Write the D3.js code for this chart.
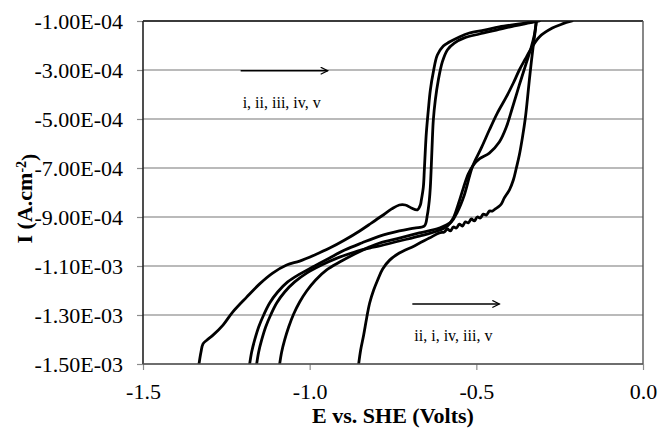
<!DOCTYPE html>
<html>
<head>
<meta charset="utf-8">
<script src="https://cdn.jsdelivr.net/npm/d3@7"></script>
<style>
  html, body { margin: 0; padding: 0; background: #fff; }
  svg { display: block; font-family: "Liberation Serif", "Times New Roman", serif; }
</style>
</head>
<body>
<svg id="chart" width="658" height="429"></svg>
<script>
// Polarization scans: [E (V vs. SHE), I (units of 1e-4 A·cm^-2)]
const scanII = [[-1.332,-15.00],[-1.326,-14.51],[-1.320,-14.18],[-1.308,-14.02],[-1.290,-13.82],[-1.260,-13.41],[-1.231,-12.88],[-1.189,-12.27],[-1.150,-11.73],[-1.111,-11.29],[-1.069,-10.96],[-1.030,-10.80],[-0.985,-10.55],[-0.940,-10.27],[-0.895,-9.94],[-0.850,-9.57],[-0.814,-9.24],[-0.784,-8.96],[-0.754,-8.67],[-0.731,-8.51],[-0.713,-8.51],[-0.695,-8.63],[-0.677,-8.71],[-0.668,-8.51],[-0.665,-8.31],[-0.659,-7.78],[-0.656,-7.08],[-0.653,-6.27],[-0.650,-5.57],[-0.644,-4.63],[-0.638,-3.82],[-0.629,-3.08],[-0.617,-2.39],[-0.599,-2.02],[-0.581,-1.86],[-0.551,-1.65],[-0.521,-1.49],[-0.476,-1.37],[-0.431,-1.24],[-0.371,-1.12],[-0.320,-1.00]];
const scanI = [[-1.180,-15.00],[-1.174,-14.51],[-1.165,-14.02],[-1.153,-13.49],[-1.138,-13.00],[-1.120,-12.51],[-1.096,-12.06],[-1.066,-11.65],[-1.030,-11.33],[-0.985,-11.00],[-0.940,-10.67],[-0.895,-10.35],[-0.844,-10.06],[-0.790,-9.78],[-0.731,-9.57],[-0.686,-9.45],[-0.656,-9.37],[-0.647,-8.92],[-0.641,-8.31],[-0.638,-7.78],[-0.635,-6.88],[-0.632,-5.86],[-0.629,-5.04],[-0.623,-4.22],[-0.614,-3.41],[-0.602,-2.67],[-0.587,-2.18],[-0.566,-1.90],[-0.536,-1.69],[-0.491,-1.53],[-0.440,-1.37],[-0.386,-1.20],[-0.341,-1.08],[-0.311,-1.00]];
const scanIII = [[-1.090,-15.00],[-1.084,-14.51],[-1.075,-14.02],[-1.063,-13.49],[-1.048,-12.96],[-1.030,-12.47],[-1.009,-12.02],[-0.982,-11.57],[-0.949,-11.16],[-0.910,-10.84],[-0.865,-10.51],[-0.820,-10.22],[-0.790,-10.06],[-0.731,-9.86],[-0.671,-9.65],[-0.611,-9.45],[-0.575,-9.20],[-0.557,-8.80],[-0.536,-8.10],[-0.512,-6.96],[-0.485,-6.18],[-0.461,-5.45],[-0.437,-4.76],[-0.410,-4.10],[-0.389,-3.53],[-0.371,-3.00],[-0.353,-2.55],[-0.338,-2.18],[-0.311,-1.65],[-0.272,-1.29],[-0.242,-1.12],[-0.213,-1.00]];
const scanIV = [[-1.159,-15.00],[-1.153,-14.51],[-1.144,-14.02],[-1.132,-13.49],[-1.117,-13.00],[-1.099,-12.51],[-1.075,-12.06],[-1.045,-11.65],[-1.009,-11.29],[-0.964,-10.96],[-0.916,-10.67],[-0.865,-10.43],[-0.820,-10.27],[-0.790,-10.18],[-0.731,-9.98],[-0.671,-9.78],[-0.617,-9.57],[-0.587,-9.37],[-0.569,-9.04],[-0.554,-8.47],[-0.539,-7.82],[-0.524,-7.24],[-0.509,-6.88],[-0.491,-6.63],[-0.461,-6.39],[-0.431,-5.94],[-0.410,-5.33],[-0.392,-4.55],[-0.371,-3.61],[-0.350,-2.71],[-0.335,-2.06],[-0.326,-1.57],[-0.320,-1.00]];
const scanV = [[-0.853,-15.00],[-0.847,-14.43],[-0.838,-13.82],[-0.829,-13.12],[-0.820,-12.51],[-0.808,-11.98],[-0.796,-11.57],[-0.781,-11.12],[-0.760,-10.76],[-0.731,-10.47],[-0.686,-10.18],[-0.641,-9.86],[-0.611,-9.65],[-0.596,-9.61],[-0.587,-9.49],[-0.578,-9.57],[-0.569,-9.41],[-0.560,-9.45],[-0.551,-9.29],[-0.542,-9.37],[-0.533,-9.20],[-0.524,-9.24],[-0.515,-9.08],[-0.506,-9.16],[-0.497,-9.00],[-0.488,-9.04],[-0.479,-8.88],[-0.470,-8.92],[-0.461,-8.76],[-0.452,-8.76],[-0.443,-8.67],[-0.434,-8.59],[-0.425,-8.47],[-0.416,-8.22],[-0.401,-7.90],[-0.389,-7.49],[-0.380,-7.00],[-0.371,-6.47],[-0.362,-5.78],[-0.353,-4.96],[-0.347,-4.22],[-0.341,-3.41],[-0.335,-2.67],[-0.329,-1.98],[-0.323,-1.37],[-0.320,-1.00]];

const currentUnit = 1e-4; // A·cm^-2 per stored unit

// Axis ticks
const xTicks = [-1.5, -1.0, -0.5, 0.0];
const yTicks = [-1.0e-4, -3.0e-4, -5.0e-4, -7.0e-4, -9.0e-4, -1.1e-3, -1.3e-3, -1.5e-3];

// Scan-order notes: [label, E start, E end, I (1e-4 A·cm^-2) of arrow, I of label]
const noteAnodic = ["i, ii, iii, iv, v", -1.207, -0.946, -3.03, -4.55];
const noteCathodic = ["ii, i, iv, iii, v", -0.692, -0.431, -12.55, -14.06];

const serif = '"Liberation Serif", "Times New Roman", serif';
const svg = d3.select("#chart");
const m = { left: 143, right: 643, top: 21, bottom: 364 };

const x = d3.scaleLinear().domain([-1.5, 0]).range([m.left, m.right]);
const y = d3.scaleLinear().domain([-1.5e-3, -1.0e-4]).range([m.bottom, m.top]);

function sci(v) {
  const [mant, ex] = v.toExponential(2).split("e");
  const n = +ex;
  return mant + "E" + (n < 0 ? "-" : "+") + String(Math.abs(n)).padStart(2, "0");
}

// Horizontal gridlines
svg.append("g")
  .selectAll("line")
  .data(yTicks)
  .join("line")
  .attr("x1", m.left).attr("x2", m.right)
  .attr("y1", d => y(d)).attr("y2", d => y(d))
  .attr("stroke", "#a3a3a3")
  .attr("stroke-width", 1.5);

// Y axis
const yAxis = svg.append("g")
  .attr("transform", `translate(${m.left},0)`)
  .call(d3.axisLeft(y).tickValues(yTicks).tickFormat(sci).tickSize(6).tickSizeOuter(0).tickPadding(14))
  .attr("font-family", serif)
  .attr("font-size", 22);
yAxis.select(".domain").remove();
yAxis.selectAll(".tick line").attr("stroke", "#8c8c8c").attr("stroke-width", 1.2);
yAxis.selectAll(".tick text").attr("fill", "#000");

// X axis
const xAxis = svg.append("g")
  .attr("transform", `translate(0,${m.bottom})`)
  .call(d3.axisBottom(x).tickValues(xTicks).tickFormat(d => d.toFixed(1)).tickSize(6).tickSizeOuter(0).tickPadding(13))
  .attr("font-family", serif)
  .attr("font-size", 22);
xAxis.select(".domain").remove();
xAxis.selectAll(".tick line").attr("stroke", "#8c8c8c").attr("stroke-width", 1.2);
xAxis.selectAll(".tick text").attr("fill", "#000");

// Curves
const defs = svg.append("defs");
defs.append("clipPath").attr("id", "plot-clip")
  .append("rect")
  .attr("x", m.left).attr("y", m.top)
  .attr("width", m.right - m.left).attr("height", m.bottom - m.top);

const line = d3.line()
  .x(d => x(d[0]))
  .y(d => y(d[1] * currentUnit))
  .curve(d3.curveCatmullRom.alpha(0.5));

svg.append("g")
  .attr("clip-path", "url(#plot-clip)")
  .selectAll("path")
  .data([scanII, scanI, scanIV, scanIII, scanV])
  .join("path")
  .attr("d", line)
  .attr("fill", "none")
  .attr("stroke", "#000")
  .attr("stroke-width", 2.8)
  .attr("stroke-linejoin", "round")
  .attr("stroke-linecap", "round");

// Plot frame
svg.append("line").attr("x1", m.left).attr("x2", m.right).attr("y1", m.top).attr("y2", m.top)
  .attr("stroke", "#111").attr("stroke-width", 1.6);
svg.append("line").attr("x1", m.left).attr("x2", m.left).attr("y1", m.top).attr("y2", m.bottom)
  .attr("stroke", "#222").attr("stroke-width", 1.6);
svg.append("line").attr("x1", m.left).attr("x2", m.right).attr("y1", m.bottom).attr("y2", m.bottom)
  .attr("stroke", "#555").attr("stroke-width", 1.6);
svg.append("line").attr("x1", m.right).attr("x2", m.right).attr("y1", m.top).attr("y2", m.bottom)
  .attr("stroke", "#555").attr("stroke-width", 1.4);

// Arrow notes
defs.append("marker")
  .attr("id", "arrowhead")
  .attr("markerUnits", "userSpaceOnUse")
  .attr("markerWidth", 10).attr("markerHeight", 10)
  .attr("refX", 8).attr("refY", 4)
  .attr("orient", "auto")
  .append("path")
  .attr("d", "M1,0.5 L8,4 L1,7.5")
  .attr("fill", "none")
  .attr("stroke", "#000")
  .attr("stroke-width", 1.3);

[noteAnodic, noteCathodic].forEach(([label, e0, e1, iArrow, iText]) => {
  svg.append("line")
    .attr("x1", x(e0)).attr("x2", x(e1))
    .attr("y1", y(iArrow * currentUnit)).attr("y2", y(iArrow * currentUnit))
    .attr("stroke", "#000").attr("stroke-width", 1.4)
    .attr("marker-end", "url(#arrowhead)");
  svg.append("text")
    .attr("x", x(e0) + 2).attr("y", y(iText * currentUnit))
    .attr("fill", "#000")
    .style("font-family", serif)
    .style("font-size", "16px")
    .text(label);
});

// Axis titles
svg.append("text")
  .attr("x", (m.left + m.right) / 2).attr("y", 423)
  .attr("text-anchor", "middle")
  .style("font-family", serif)
  .style("font-size", "22px").style("font-weight", "bold")
  .text("E vs. SHE (Volts)");

const yTitle = svg.append("text")
  .attr("transform", `translate(32,${(m.top + m.bottom) / 2 + 6}) rotate(-90)`)
  .attr("text-anchor", "middle")
  .style("font-family", serif)
  .style("font-size", "22px").style("font-weight", "bold");
yTitle.append("tspan").text("I (A.cm");
yTitle.append("tspan").attr("dy", "-0.45em").style("font-size", "14px").text("-2");
yTitle.append("tspan").attr("dy", "0.45em").text(")");
</script>
</body>
</html>
